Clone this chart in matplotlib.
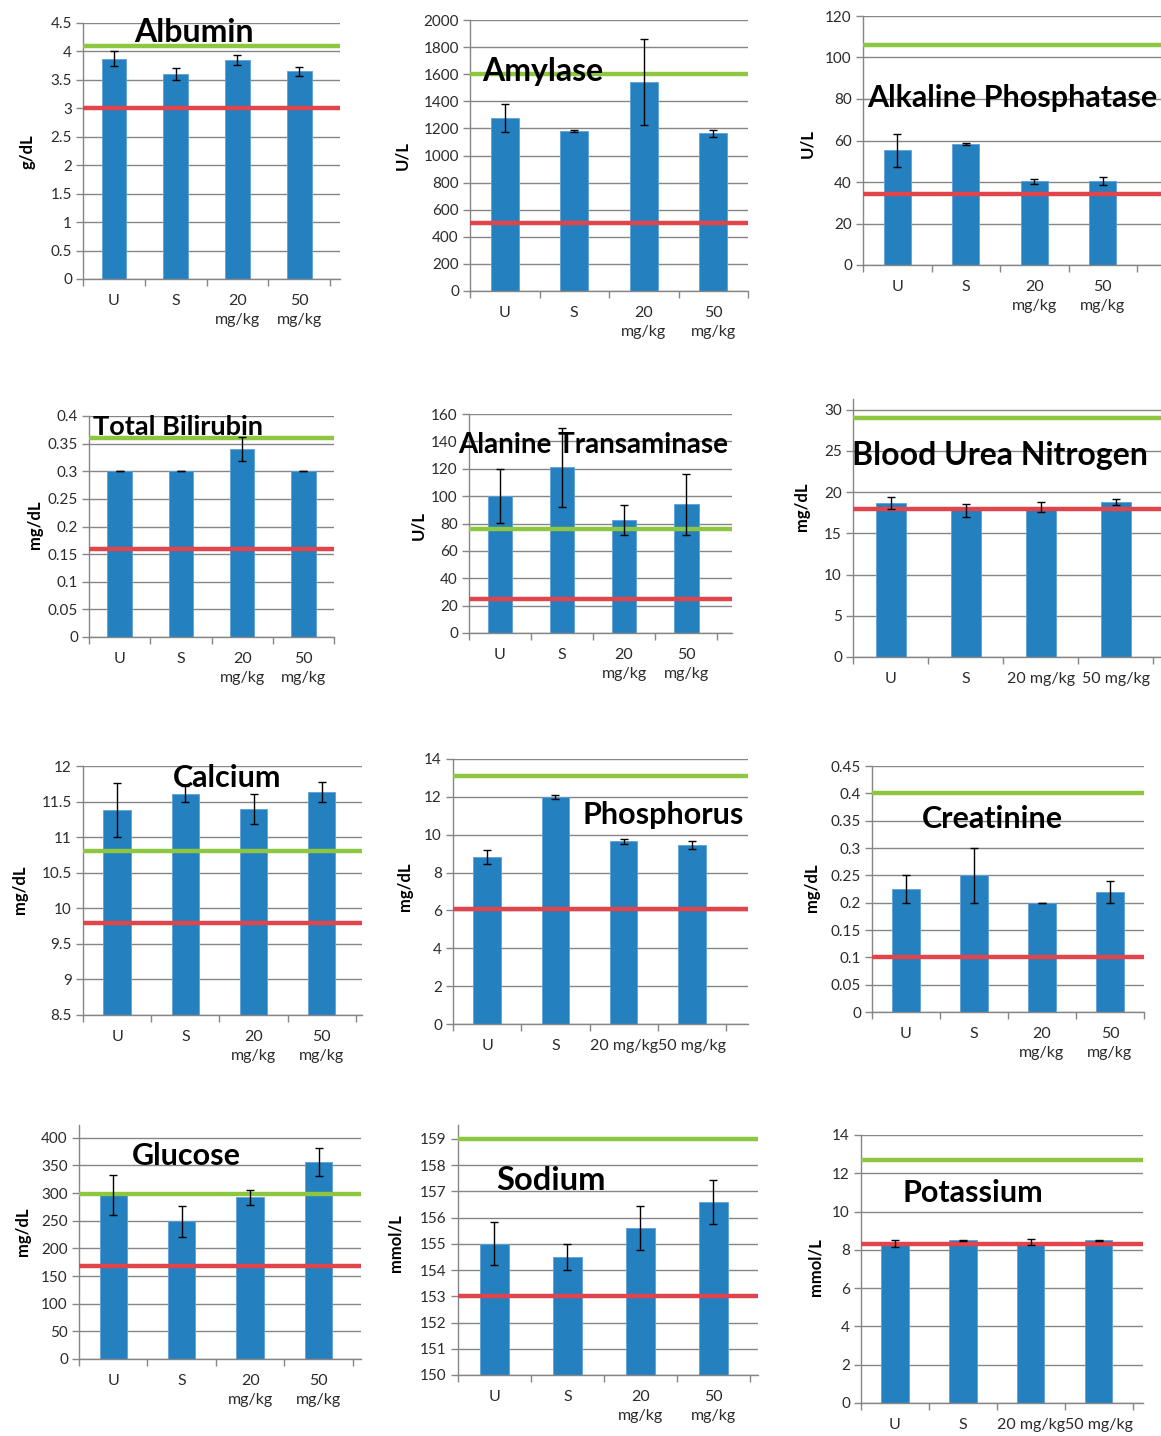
import matplotlib
matplotlib.use("Agg")
import matplotlib.pyplot as plt
import numpy as np

plt.rcParams['font.family'] = ['Lato', 'DejaVu Sans']

W, H = 1161, 1436

groups = ["U", "S", "20 mg/kg", "50 mg/kg"]

albumin_mean = [3.87, 3.60, 3.85, 3.65]
albumin_err = [0.13, 0.11, 0.08, 0.08]
amylase_mean = [1275, 1183, 1542, 1163]
amylase_err = [103, 8, 318, 23]
alp_mean = [55.2, 58.3, 40.4, 40.4]
alp_err = [7.9, 0.4, 1.2, 2.0]
bilirubin_mean = [0.30, 0.30, 0.34, 0.30]
bilirubin_err = [0.0, 0.0, 0.022, 0.0]
alt_mean = [100, 121, 82.5, 94]
alt_err = [19.5, 29, 11, 22.5]
bun_mean = [18.7, 17.8, 18.2, 18.8]
bun_err = [0.7, 0.8, 0.6, 0.35]
calcium_mean = [11.38, 11.61, 11.40, 11.63]
calcium_err = [0.38, 0.11, 0.21, 0.14]
phosphorus_mean = [8.82, 12.0, 9.65, 9.45]
phosphorus_err = [0.36, 0.1, 0.13, 0.21]
creatinine_mean = [0.225, 0.25, 0.20, 0.22]
creatinine_err = [0.025, 0.05, 0.0, 0.02]
glucose_mean = [296, 249, 292, 356]
glucose_err = [36, 28, 14, 26]
sodium_mean = [155.0, 154.5, 155.6, 156.6]
sodium_err = [0.82, 0.5, 0.83, 0.83]
potassium_mean = [8.33, 8.5, 8.4, 8.5]
potassium_err = [0.18, 0.02, 0.16, 0.02]

# reference range (upper = green, lower = red)
upper_limits = [4.1, 1600, 106, 0.36, 76, 29, 10.8, 13.1, 0.4, 298, 159, 12.7]
lower_limits = [3.0, 500, 34, 0.16, 25, 18, 9.8, 6.1, 0.1, 168, 153, 8.3]

titles = ["Albumin", "Amylase", "Alkaline Phosphatase", "Total Bilirubin",
          "Alanine Transaminase", "Blood Urea Nitrogen", "Calcium", "Phosphorus",
          "Creatinine", "Glucose", "Sodium", "Potassium"]
units = ["g/dL", "U/L", "U/L", "mg/dL", "U/L", "mg/dL", "mg/dL", "mg/dL",
         "mg/dL", "mg/dL", "mmol/L", "mmol/L"]
# y axis: (min, max tick, step)
y_ticks = [(0, 4.5, 0.5), (0, 2000, 200), (0, 120, 20), (0, 0.4, 0.05),
           (0, 160, 20), (0, 30, 5), (8.5, 12, 0.5), (0, 14, 2),
           (0, 0.45, 0.05), (0, 400, 50), (150, 159, 1), (0, 14, 2)]
one_line_labels = [False, False, False, False, False, True,
                   False, True, False, False, False, True]

means = [albumin_mean, amylase_mean, alp_mean, bilirubin_mean, alt_mean, bun_mean,
         calcium_mean, phosphorus_mean, creatinine_mean, glucose_mean, sodium_mean,
         potassium_mean]
errs = [albumin_err, amylase_err, alp_err, bilirubin_err, alt_err, bun_err,
        calcium_err, phosphorus_err, creatinine_err, glucose_err, sodium_err,
        potassium_err]

# layout in pixels: left, right, top, bottom, extra categories to the right, y top
layout = [
    (83, 340, 23, 279, 0.16, None),
    (470, 748, 20, 291, 0.0, None),
    (863, 1161, 16, 265, 0.35, None),
    (89, 334, 416, 637, 0.0, None),
    (469, 732, 414, 633, 0.24, None),
    (853, 1161, 399, 657, 0.10, 31.3),
    (83, 362, 766, 1015, 0.09, None),
    (453, 748, 759, 1024, 0.32, None),
    (872, 1144, 766, 1012, 0.0, None),
    (79, 361, 1125, 1359, 0.12, 423),
    (458, 758, 1125, 1375, 0.11, 159.53),
    (861, 1143, 1135, 1403, 0.15, None),
]
# title centres and unit label positions (pixels), title sizes
title_pos = [(194, 33), (543, 72), (1012, 98), (178, 427), (593, 445), (1000, 455),
             (227, 778), (663, 815), (992, 819), (186, 1156), (551, 1180), (973, 1193)]
title_size = [23, 23, 22, 19.5, 20, 23, 22, 22, 22, 22, 23.5, 22]
unit_pos = [(28, 152), (402, 155), (807, 143), (35, 525), (418, 525), (802, 507),
            (20, 890), (405, 887), (812, 888), (23, 1232), (395, 1243), (815, 1267)]

BLUE = '#2580C0'
GREEN = '#8DC641'
RED = '#DF454B'
GRID = '#868686'
TEXT = '#2B2B2B'

fig = plt.figure(figsize=(W / 100, H / 100), dpi=100)

x = np.arange(len(groups))
for i in range(12):
    left, right, top, bottom, ext, ytop = layout[i]
    ax = fig.add_axes([left / W, 1 - bottom / H, (right - left) / W, (bottom - top) / H])

    ax.bar(x, means[i], width=0.4, color=BLUE, edgecolor='#5FA0D8', linewidth=0.6, zorder=2)
    ax.axhline(upper_limits[i], color=GREEN, lw=3.2, zorder=3)
    ax.axhline(lower_limits[i], color=RED, lw=3.2, zorder=3)
    ax.errorbar(x, means[i], yerr=errs[i], fmt='none', ecolor='black',
                elinewidth=1, capsize=3, capthick=1, zorder=4)

    ymin, ymax, step = y_ticks[i]
    ticks = np.arange(ymin, ymax + step / 2, step)
    ax.set_yticks(ticks)
    ax.set_yticklabels([f"{round(t, 6):g}" for t in ticks])
    ax.set_ylim(ymin, ytop if ytop else ymax)
    ax.set_xlim(-0.5, 3.5 + ext)

    # category boundaries get tick marks, labels sit on the centres
    ax.set_xticks(np.arange(-0.5, 4, 1))
    ax.set_xticklabels([])
    ax.set_xticks(x, minor=True)
    if one_line_labels[i]:
        ax.set_xticklabels(groups, minor=True)
    else:
        ax.set_xticklabels([g.replace(" ", "\n") for g in groups], minor=True,
                           linespacing=1.45, va='top')
    ax.tick_params(axis='x', which='major', length=5, color=GRID, width=1)
    ax.tick_params(axis='x', which='minor', length=0, pad=11, labelsize=11.5,
                   labelcolor=TEXT)
    ax.tick_params(axis='y', length=5, color=GRID, width=1, labelsize=11,
                   labelcolor=TEXT, pad=3)

    ax.yaxis.grid(True, color=GRID, lw=1)
    ax.set_axisbelow(True)
    for side in ['top', 'right']:
        ax.spines[side].set_visible(False)
    for side in ['left', 'bottom']:
        ax.spines[side].set_color(GRID)
        ax.spines[side].set_linewidth(1)

    tx, ty = title_pos[i]
    fig.text(tx / W, 1 - ty / H, titles[i], ha='center', va='center',
             fontsize=title_size[i], fontweight='bold', color='black', zorder=10)
    ux, uy = unit_pos[i]
    fig.text(ux / W, 1 - uy / H, units[i], ha='center', va='center', rotation=90,
             fontsize=12, fontweight='bold', color='black')

fig.savefig("out.png", dpi=100)
